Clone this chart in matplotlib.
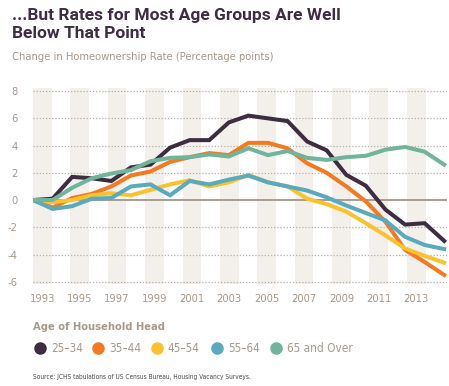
import matplotlib
matplotlib.use("Agg")
import matplotlib.pyplot as plt
import numpy as np

# Age groups and changes in homeownership rate (pct points) vs 1993, 1993-2014
groups = ["25\u201334", "35\u201344", "45\u201354", "55\u201364", "65 and Over"]
colors = ["#3d2d40", "#f47920", "#f9c22e", "#5aaabd", "#6fb49b"]

years = list(range(1993, 2015))
age_25_34 = [0, 0.1, 1.7, 1.6, 1.4, 2.4, 2.6, 3.85, 4.4, 4.4, 5.7, 6.2, 6.0, 5.8, 4.3, 3.65, 1.85, 1.05, -0.7, -1.8, -1.7, -3.0]
age_35_44 = [0, -0.55, 0.15, 0.45, 1.0, 1.8, 2.1, 2.8, 3.15, 3.45, 3.3, 4.2, 4.2, 3.8, 2.7, 2.0, 1.0, -0.1, -1.6, -3.65, -4.55, -5.5]
age_45_54 = [0, -0.15, 0.0, 0.35, 0.5, 0.35, 0.75, 1.15, 1.45, 1.0, 1.3, 1.85, 1.3, 1.0, 0.1, -0.3, -0.85, -1.7, -2.6, -3.55, -4.1, -4.6]
age_55_64 = [0, -0.65, -0.45, 0.1, 0.15, 1.0, 1.15, 0.35, 1.4, 1.15, 1.5, 1.8, 1.3, 1.0, 0.7, 0.2, -0.4, -0.95, -1.5, -2.7, -3.3, -3.6]
age_65_up = [0, 0.0, 0.9, 1.6, 1.95, 2.2, 2.85, 3.1, 3.15, 3.35, 3.2, 3.8, 3.3, 3.6, 3.1, 2.95, 3.15, 3.25, 3.7, 3.9, 3.55, 2.6]
series = [age_25_34, age_35_44, age_45_54, age_55_64, age_65_up]

tick_years = list(range(1993, 2014, 2))
yticks = [8, 6, 4, 2, 0, -2, -4, -6]

narrow = dict(family="DejaVu Sans", stretch="condensed")
tan = "#a8998b"

fig = plt.figure(figsize=(4.49, 3.86), dpi=100)
ax = fig.add_axes([33 / 449, 0.263, 414 / 449, 0.508])

# shaded year bands (odd years)
for y in tick_years:
    ax.axvspan(y, y + 1, color="#f3f0ec", lw=0, zorder=0)

for v in yticks:
    if v == 0:
        ax.axhline(0, color="#a39588", lw=1.3, zorder=1)
    else:
        ax.axhline(v, color="#b9b0a8", lw=0.9, ls=(0, (1, 1.5)), zorder=1)

# data points spread across the band scale
xs = np.linspace(1993, 2015, len(years))
for s, c in zip(series, colors):
    ax.plot(xs, s, color=c, lw=2.9, solid_joinstyle="miter", zorder=3)

ax.set_xlim(1993, 2015.15)
ax.set_ylim(-6.2, 8.2)
ax.set_xticks([y + 0.5 for y in tick_years])
ax.set_xticklabels([str(y) for y in tick_years], fontsize=8, color=tan, **narrow)
ax.set_yticks(yticks)
ax.set_yticklabels([str(v) for v in yticks], fontsize=8, color=tan, **narrow)
ax.tick_params(length=0)
ax.tick_params(axis="x", pad=7)
ax.tick_params(axis="y", pad=11)
for sp in ax.spines.values():
    sp.set_visible(False)

fig.text(12 / 449, 1 - 8 / 386, "...But Rates for Most Age Groups Are Well\nBelow That Point",
         ha="left", va="top", fontsize=12.5, fontweight="bold", color="#3d2d40",
         family=["Roboto", "DejaVu Sans"], linespacing=1.22)
fig.text(12 / 449, 1 - 57 / 386, "Change in Homeownership Rate (Percentage points)",
         ha="left", va="center", fontsize=8, color=tan, **narrow)

fig.text(33 / 449, 1 - 327 / 386, "Age of Household Head", ha="left", va="center",
         fontsize=8, fontweight="bold", color=tan, **narrow)

# legend row
leg_x = [40, 98, 157, 217, 276]
for px, g, c in zip(leg_x, groups, colors):
    fig.lines.append(plt.Line2D([px / 449], [1 - 348 / 386], ls="none", marker="o",
                                markersize=8, color=c, transform=fig.transFigure))
    fig.text((px + 11) / 449, 1 - 348 / 386, g, ha="left", va="center",
             fontsize=8.5, color=tan, **narrow)

fig.text(33 / 449, 1 - 377 / 386, "Source: JCHS tabulations of US Census Bureau, Housing Vacancy Surveys.",
         ha="left", va="center", fontsize=4.7, color="#4a4a4a", **narrow)

fig.savefig("out.png", dpi=100)
